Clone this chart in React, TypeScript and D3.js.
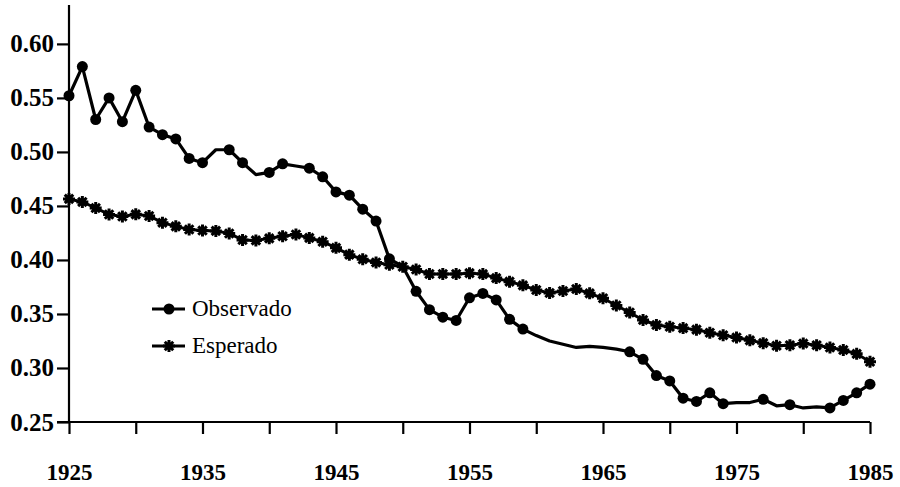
import React, { useEffect, useRef } from "react";
import * as d3 from "d3";

// data (1925 - 1985, one value per year)
const years = d3.range(1925, 1986);

const observado = [
  0.552, 0.579, 0.53, 0.55, 0.528, 0.557, 0.523, 0.516, 0.512, 0.494,
  0.49, 0.502, 0.502, 0.49, 0.479, 0.481, 0.489, 0.487, 0.485, 0.477,
  0.463, 0.46, 0.447, 0.436, 0.401, 0.394, 0.371, 0.354, 0.347, 0.344,
  0.365, 0.369, 0.363, 0.345, 0.336, 0.33, 0.325, 0.322, 0.319, 0.32,
  0.319, 0.3175, 0.315, 0.308, 0.293, 0.288, 0.272, 0.269, 0.277, 0.267,
  0.268, 0.268, 0.271, 0.265, 0.266, 0.263, 0.264, 0.263, 0.27, 0.277,
  0.285,
];

// years where the observed series carries a dot
const observadoMarked = [
  1925, 1926, 1927, 1928, 1929, 1930, 1931, 1932, 1933, 1934, 1935, 1937,
  1938, 1940, 1941, 1943, 1944, 1945, 1946, 1947, 1948, 1949, 1951, 1952,
  1953, 1954, 1955, 1956, 1957, 1958, 1959, 1967, 1968, 1969, 1970, 1971,
  1972, 1973, 1974, 1977, 1979, 1982, 1983, 1984, 1985,
];

const esperado = [
  0.4565, 0.4537, 0.4481, 0.4421, 0.4402, 0.4422, 0.4407, 0.4345, 0.4311, 0.4282,
  0.4272, 0.4269, 0.4245, 0.4185, 0.4181, 0.42, 0.4219, 0.4236, 0.4204, 0.4169,
  0.4112, 0.4049, 0.4006, 0.3977, 0.3956, 0.3937, 0.3912, 0.387, 0.387, 0.387,
  0.3878, 0.3869, 0.3832, 0.3799, 0.3765, 0.3722, 0.3694, 0.3713, 0.3731, 0.3691,
  0.3645, 0.3578, 0.3514, 0.3444, 0.3398, 0.3382, 0.3369, 0.3355, 0.3326, 0.3303,
  0.3282, 0.3256, 0.323, 0.3206, 0.3211, 0.3226, 0.3211, 0.319, 0.3167, 0.3131,
  0.3058,
];

const yTicks = [0.25, 0.3, 0.35, 0.4, 0.45, 0.5, 0.55, 0.6];
const xTicks = [1925, 1930, 1935, 1940, 1945, 1950, 1955, 1960, 1965, 1970, 1975, 1980, 1985];
const xLabels = [1925, 1935, 1945, 1955, 1965, 1975, 1985];
const seriesNames = ["Observado", "Esperado"];

// eight-armed asterisk, like the scanned marker
const asterisk8: d3.SymbolType = {
  draw(ctx, size) {
    const r = Math.sqrt(size) / 2;
    const d = r * Math.SQRT1_2;
    ctx.moveTo(-r, 0);
    ctx.lineTo(r, 0);
    ctx.moveTo(0, -r);
    ctx.lineTo(0, r);
    ctx.moveTo(-d, -d);
    ctx.lineTo(d, d);
    ctx.moveTo(-d, d);
    ctx.lineTo(d, -d);
  },
};

const FONT = "Liberation Serif";

const App = () => {
  const svgRef = useRef<SVGSVGElement | null>(null);

  useEffect(() => {
    const w = 900;
    const h = 487;
    const svg = d3.select(svgRef.current);
    svg.selectAll("*").remove();
    svg
      .attr("width", w)
      .attr("height", h)
      .attr("font-family", FONT)
      .style("background", "#fff");

    const x = d3.scaleLinear().domain([1925, 1985]).range([69, 870]);
    const y = d3.scaleLinear().domain([0.25, 0.636]).range([422, 5]);

    // y axis
    const yAxis = d3
      .axisLeft(y)
      .tickValues(yTicks)
      .tickSize(12)
      .tickPadding(3)
      .tickFormat((d) => d3.format(".2f")(d as number));
    const gy = svg.append("g").attr("transform", `translate(${x(1925)},0)`).call(yAxis);
    gy.attr("font-family", FONT).attr("font-size", 25);
    gy.select(".domain").attr("d", `M0,${y(0.636)}V${y(0.25)}`);
    gy.selectAll("line, path").attr("stroke", "#000").attr("stroke-width", 2.2);
    gy.selectAll("text").attr("fill", "#000").attr("font-weight", "bold");

    // x axis
    const xAxis = d3
      .axisBottom(x)
      .tickValues(xTicks)
      .tickSize(12)
      .tickPadding(30)
      .tickFormat((d) => (xLabels.includes(d as number) ? String(d) : ""));
    const gx = svg.append("g").attr("transform", `translate(0,${y(0.25)})`).call(xAxis);
    gx.attr("font-family", FONT).attr("font-size", 23);
    gx.select(".domain").attr("d", `M${x(1925) - 12},0H${x(1985)}`);
    gx.selectAll("line, path").attr("stroke", "#000").attr("stroke-width", 2.2);
    gx.selectAll("text").attr("fill", "#000").attr("font-weight", "bold");

    const obs = years.map((yr, i) => ({ yr, v: observado[i] }));
    const esp = years.map((yr, i) => ({ yr, v: esperado[i] }));

    const line = d3
      .line<{ yr: number; v: number }>()
      .x((d) => x(d.yr))
      .y((d) => y(d.v));

    // Esperado
    svg
      .append("path")
      .attr("d", line(esp))
      .attr("fill", "none")
      .attr("stroke", "#000")
      .attr("stroke-width", 3);
    svg
      .append("g")
      .selectAll("path")
      .data(esp)
      .join("path")
      .attr("transform", (d) => `translate(${x(d.yr)},${y(d.v)})`)
      .attr("d", d3.symbol().type(asterisk8).size(144)())
      .attr("stroke", "#000")
      .attr("stroke-width", 3);

    // Observado
    svg
      .append("path")
      .attr("d", line(obs))
      .attr("fill", "none")
      .attr("stroke", "#000")
      .attr("stroke-width", 3.2)
      .attr("stroke-linejoin", "round");
    svg
      .append("g")
      .selectAll("circle")
      .data(obs.filter((d) => observadoMarked.includes(d.yr)))
      .join("circle")
      .attr("cx", (d) => x(d.yr))
      .attr("cy", (d) => y(d.v))
      .attr("r", 5.5)
      .attr("fill", "#000");

    // legend
    const legend = svg.append("g").attr("transform", "translate(152,309)");
    seriesNames.forEach((name, i) => {
      const g = legend.append("g").attr("transform", `translate(0,${i * 37})`);
      g.append("line")
        .attr("x1", 0)
        .attr("x2", 33)
        .attr("stroke", "#000")
        .attr("stroke-width", 3);
      if (i === 0) {
        g.append("circle").attr("cx", 17).attr("r", 5.5).attr("fill", "#000");
      } else {
        g.append("path")
          .attr("transform", "translate(17,0)")
          .attr("d", d3.symbol().type(asterisk8).size(144)())
          .attr("stroke", "#000")
          .attr("stroke-width", 3);
      }
      g.append("text")
        .attr("x", 40)
        .attr("y", 7)
        .attr("font-family", FONT)
        .attr("font-size", 23)
        .attr("fill", "#000")
        .text(name);
    });
  }, []);

  return (
    <div>
      <svg ref={svgRef} style={{ position: "absolute", left: 0, top: 0, display: "block" }}></svg>
    </div>
  );
};

export default App;
